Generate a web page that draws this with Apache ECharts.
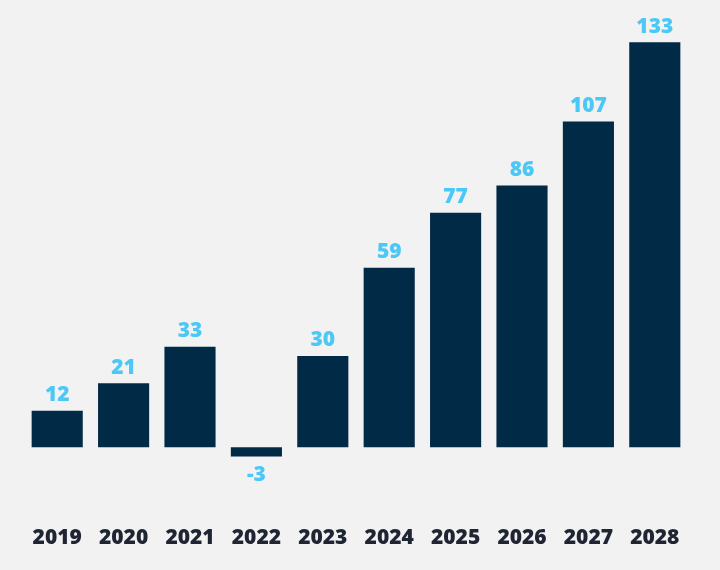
<!DOCTYPE html>
<html>
<head>
<meta charset="utf-8">
<script src="https://cdn.jsdelivr.net/npm/echarts@6/dist/echarts.min.js"></script>
<style>
html,body{margin:0;padding:0;background:#f2f2f2;}
#chart{width:720px;height:570px;}
</style>
</head>
<body>
<div id="chart"></div>
<script>
const categories = ['2019','2020','2021','2022','2023','2024','2025','2026','2027','2028'];
const values = [12, 21, 33, -3, 30, 59, 77, 86, 107, 133];

const chart = echarts.init(document.getElementById('chart'));
chart.setOption({
  backgroundColor: '#f2f2f2',
  animation: false,
  grid: { left: 24, right: 32, top: 21, bottom: 77, containLabel: false },
  xAxis: {
    type: 'category',
    data: categories,
    axisLine: { show: false },
    axisTick: { show: false },
    axisLabel: {
      margin: 35,
      color: '#1f2533',
      fontFamily: 'Open Sans',
      fontWeight: 800,
      fontSize: 21
    }
  },
  yAxis: {
    type: 'value',
    min: -15,
    max: 140,
    show: false,
    splitLine: { show: false }
  },
  series: [{
    type: 'bar',
    data: values.map(v => ({
      value: v,
      label: { position: v < 0 ? 'bottom' : 'top', distance: v < 0 ? 8 : 5 }
    })),
    barWidth: '77%',
    itemStyle: { color: '#012a47' },
    label: {
      show: true,
      color: '#4cc8f6',
      fontFamily: 'Open Sans',
      fontWeight: 800,
      fontSize: 21
    }
  }]
});
</script>
</body>
</html>
